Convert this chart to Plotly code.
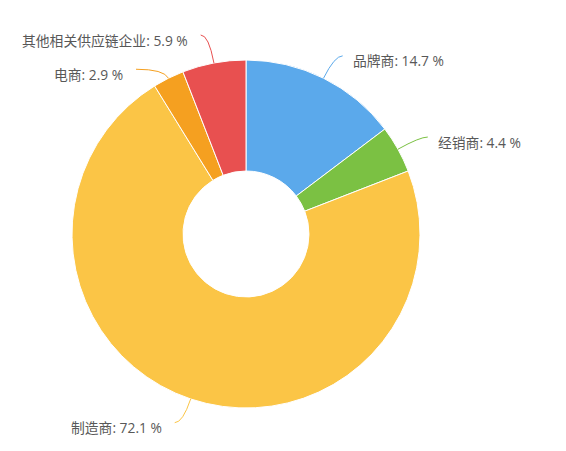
import math
import plotly.graph_objects as go

# Share of each type of enterprise (%)
categories = ["品牌商", "经销商", "制造商", "电商", "其他相关供应链企业"]
shares = [14.7, 4.4, 72.1, 2.9, 5.9]
colors = ["#5ba9eb", "#7bc143", "#fbc546", "#f5a020", "#e85050"]

# Canvas and donut geometry (pixels)
W, H = 566, 451
CX, CY = 246, 234
R_OUT, R_IN = 174, 63
LEN1, LEN2 = 25, 8          # leader line: radial part, horizontal part
TEXT_GAP = {1: 8, -1: 11}   # gap between line end and text, per side
TEXT_DROP = 5
# Vertical / horizontal nudges that keep neighbouring labels apart
nudges = {"电商": (13.4, 20), "其他相关供应链企业": (-3.4, 0)}


def px(x):
    return x / W


def py(y):
    return 1 - y / H


fig = go.Figure(
    go.Pie(
        labels=categories,
        values=shares,
        hole=R_IN / R_OUT,
        sort=False,
        direction="clockwise",
        rotation=0,
        textinfo="none",
        hoverinfo="label+percent",
        marker=dict(colors=colors, line=dict(color="#ffffff", width=1)),
        domain=dict(
            x=[px(CX - R_OUT), px(CX + R_OUT)],
            y=[py(CY + R_OUT), py(CY - R_OUT)],
        ),
        showlegend=False,
    )
)

total = sum(shares)
cum = 0.0
shapes, annotations = [], []
for name, val, col in zip(categories, shares, colors):
    mid = (cum + val / 2) / total * 2 * math.pi
    cum += val
    ux, uy = math.sin(mid), -math.cos(mid)
    side = 1 if ux >= 0 else -1
    x0, y0 = CX + R_OUT * ux, CY + R_OUT * uy
    dy, dx = nudges.get(name, (0, 0))
    ty = y0 + LEN1 * uy + dy
    t = (ty - y0) / uy
    x1, y1 = x0 + t * ux, ty
    x2, y2 = x1 + side * (LEN2 + dx), ty
    shapes.append(dict(
        type="path", xref="paper", yref="paper",
        path=f"M {px(x0)} {py(y0)} Q {px(x1)} {py(y1)} {px(x2)} {py(y2)}",
        line=dict(color=col, width=1),
    ))
    annotations.append(dict(
        xref="paper", yref="paper",
        x=px(x2 + side * TEXT_GAP[side]), y=py(y2 + TEXT_DROP),
        xanchor="left" if side > 0 else "right", yanchor="middle",
        text=f"{name}: {val} %", showarrow=False,
        font=dict(size=13.8, color="#585858"),
    ))

fig.update_layout(
    width=W, height=H,
    margin=dict(l=0, r=0, t=0, b=0),
    paper_bgcolor="#ffffff",
    plot_bgcolor="#ffffff",
    font=dict(family="Open Sans, Noto Sans CJK SC, sans-serif"),
    shapes=shapes,
    annotations=annotations,
)

fig.write_html("out.html")
